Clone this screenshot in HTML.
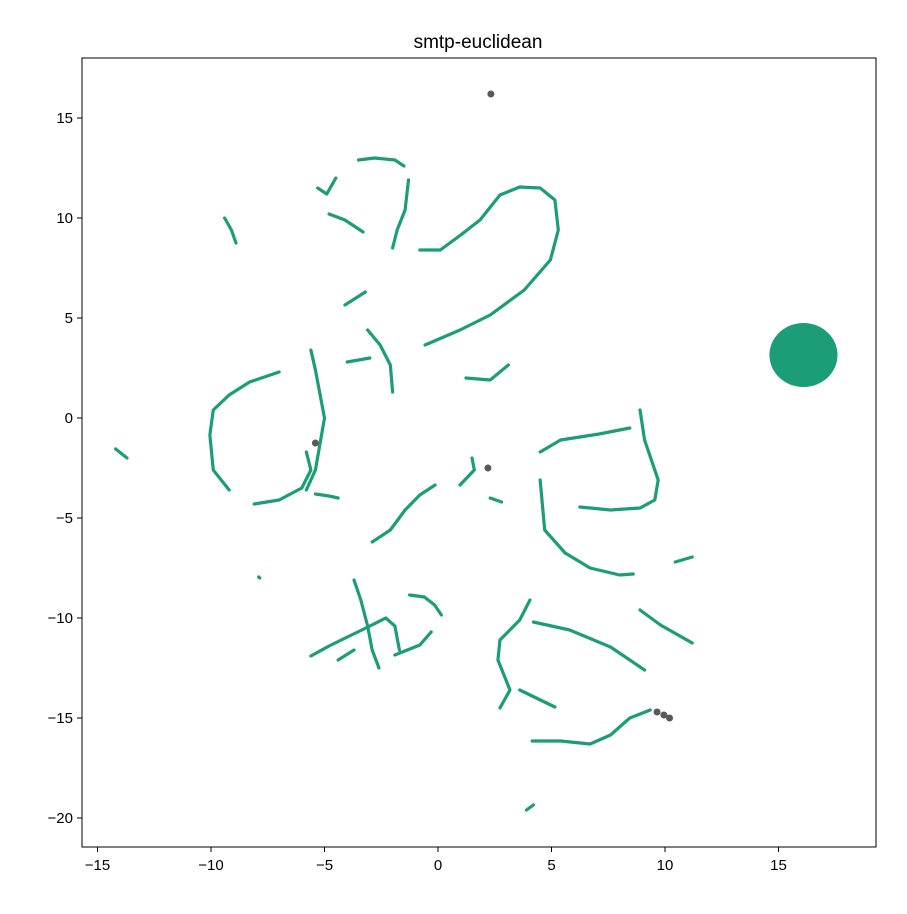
<!DOCTYPE html>
<html><head><meta charset="utf-8"><style>
body{margin:0;background:#fff;}
svg text{font-family:"Liberation Sans",sans-serif;}
</style></head><body>
<svg id="c" width="907" height="909">
<text x="478" y="48" font-size="19" text-anchor="middle">smtp-euclidean</text>
<g id="marks"></g>
<rect x="82" y="58" width="794" height="789" fill="none" stroke="#000" stroke-width="1"/>
<g id="axes"></g>
</svg>
<script>
const xTicks=[-15,-10,-5,0,5,10,15];
const yTicks=[15,10,5,0,-5,-10,-15,-20];
const curves=[
[[-9.4,10],[-9.1,9.4],[-8.9,8.75]],
[[-5.3,11.5],[-4.9,11.2],[-4.5,12.0]],
[[-4.8,10.2],[-4.1,9.9],[-3.3,9.3]],
[[-3.5,12.9],[-2.8,13.0],[-1.9,12.9],[-1.5,12.6]],
[[-1.3,11.9],[-1.45,10.4],[-1.8,9.4],[-2.0,8.5]],
[[-0.8,8.4],[0.1,8.4],[1,9.15],[1.85,9.9],[2.73,11.15],[3.6,11.55],[4.5,11.5],[5.15,10.9],[5.3,9.4],[4.95,7.9],[3.8,6.4],[2.3,5.15],[0.97,4.4],[-0.57,3.65]],
[[-4.1,5.65],[-3.2,6.3]],
[[-4,2.8],[-3,3.0]],
[[-3.1,4.4],[-2.55,3.65],[-2.1,2.65],[-2,1.3]],
[[1.23,2.0],[2.3,1.9],[3.1,2.65]],
[[-7.0,2.3],[-8.3,1.8],[-9.2,1.15],[-9.9,0.4],[-10.05,-0.85],[-9.9,-2.6],[-9.2,-3.6]],
[[-8.1,-4.3],[-7.0,-4.1],[-6.0,-3.5],[-5.6,-2.6],[-5.8,-1.7]],
[[-5.6,3.4],[-5.4,2.4],[-5.2,1.2],[-5.0,0],[-5.2,-1.3],[-5.4,-2.6],[-5.8,-3.6]],
[[-5.4,-3.8],[-4.8,-3.9],[-4.4,-4.0]],
[[-14.2,-1.55],[-13.7,-2.0]],
[[-7.9,-7.95],[-7.85,-8.0]],
[[-2.9,-6.2],[-2.1,-5.6],[-1.45,-4.6],[-0.8,-3.85],[-0.13,-3.35]],
[[0.97,-3.35],[1.6,-2.6],[1.5,-2.0]],
[[2.3,-4.0],[2.8,-4.2]],
[[4.5,-1.7],[5.4,-1.1],[7.1,-0.8],[8.45,-0.5]],
[[4.5,-3.1],[4.7,-5.6],[5.6,-6.75],[6.7,-7.5],[8.0,-7.85],[8.6,-7.8]],
[[8.9,0.4],[9.1,-1.1],[9.7,-3.1],[9.55,-4.1],[8.9,-4.5],[7.6,-4.6],[6.25,-4.45]],
[[10.45,-7.2],[11.2,-6.95]],
[[-3.7,-8.1],[-3.4,-9.1],[-3.1,-10.4],[-2.9,-11.6],[-2.6,-12.5]],
[[-5.6,-11.9],[-4.8,-11.4],[-3.9,-10.9],[-3.0,-10.4],[-2.3,-10.0],[-1.9,-10.4],[-1.7,-11.6]],
[[-4.4,-12.1],[-3.7,-11.6]],
[[-1.25,-8.85],[-0.6,-8.95],[-0.15,-9.35],[0.15,-9.85]],
[[-1.9,-11.85],[-0.8,-11.35],[-0.3,-10.7]],
[[4.05,-9.1],[3.6,-10.1],[2.73,-11.1],[2.64,-12.1],[3.17,-13.6],[2.73,-14.5]],
[[3.6,-13.6],[5.15,-14.45]],
[[4.2,-10.2],[5.8,-10.6],[7.6,-11.45],[9.1,-12.6]],
[[8.9,-9.6],[9.8,-10.35],[11.2,-11.25]],
[[4.15,-16.15],[5.4,-16.15],[6.7,-16.3],[7.6,-15.85],[8.45,-15],[9.35,-14.6]],
[[3.9,-19.6],[4.2,-19.35]]
];
const grayPts=[[2.33,16.2],[-5.4,-1.25],[2.2,-2.5],[9.65,-14.7],[9.95,-14.85],[10.2,-15.0]];
const blobCenter=[16.1,3.15];
const blobRadius=[1.5,1.6];
const X=v=>438+v*22.7, Y=v=>418-v*20;
const NS="http://www.w3.org/2000/svg";
const marks=document.getElementById('marks'), axes=document.getElementById('axes');
const blob=document.createElementNS(NS,'ellipse');
blob.setAttribute('cx',X(blobCenter[0]));blob.setAttribute('cy',Y(blobCenter[1]));
blob.setAttribute('rx',blobRadius[0]*22.7);blob.setAttribute('ry',blobRadius[1]*20);
blob.setAttribute('fill','#1b9e77');


marks.appendChild(blob);
curves.forEach((c,i)=>{
 const p=document.createElementNS(NS,'polyline');
 p.setAttribute('points',c.map(q=>X(q[0])+','+Y(q[1])).join(' '));
 p.setAttribute('fill','none');p.setAttribute('stroke','#1b9e77');p.setAttribute('stroke-width','3.2');
 p.setAttribute('stroke-linecap','round');p.setAttribute('stroke-linejoin','round');
 
 
 marks.appendChild(p);
});
grayPts.forEach(q=>{
 const c=document.createElementNS(NS,'circle');
 c.setAttribute('cx',X(q[0]));c.setAttribute('cy',Y(q[1]));c.setAttribute('r','3.5');c.setAttribute('fill','#595959');
 
 
 marks.appendChild(c);
});
xTicks.forEach(t=>{
 const l=document.createElementNS(NS,'line');
 l.setAttribute('x1',X(t));l.setAttribute('x2',X(t));l.setAttribute('y1',847);l.setAttribute('y2',852);l.setAttribute('stroke','#000');
 
 
 axes.appendChild(l);
 const s=document.createElementNS(NS,'text');
 s.setAttribute('x',X(t));s.setAttribute('y',870);s.setAttribute('text-anchor','middle');s.setAttribute('font-size','15');
 s.textContent=(t<0?'\u2212'+(-t):t);
 
 
 axes.appendChild(s);
});
yTicks.forEach(t=>{
 const l=document.createElementNS(NS,'line');
 l.setAttribute('x1',77);l.setAttribute('x2',82);l.setAttribute('y1',Y(t));l.setAttribute('y2',Y(t));l.setAttribute('stroke','#000');
 
 
 axes.appendChild(l);
 const s=document.createElementNS(NS,'text');
 s.setAttribute('x',73);s.setAttribute('y',Y(t)+5);s.setAttribute('text-anchor','end');s.setAttribute('font-size','15');
 s.textContent=(t<0?'\u2212'+(-t):t);
 
 
 axes.appendChild(s);
});
</script>
</body></html>
